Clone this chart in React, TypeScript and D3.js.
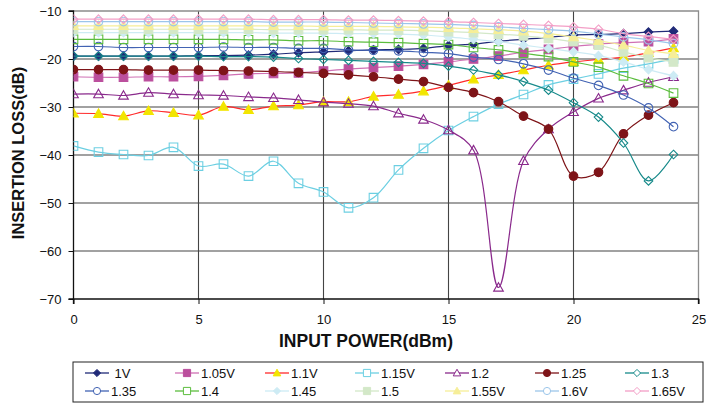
import React, { useRef, useEffect } from 'react';
import * as d3 from 'd3';

// input power (dBm)
const POWER = [0, 1, 2, 3, 4, 5, 6, 7, 8, 9, 10, 11, 12, 13, 14, 15, 16, 17, 18, 19, 20, 21, 22, 23, 24];

// insertion loss (dB) per supply voltage
const V1_00 = [-19.4, -19.4, -19.4, -19.4, -19.4, -19.3, -19.3, -19.2, -19.0, -18.7, -18.5, -18.3, -18.1, -18.0, -17.8, -17.2, -16.9, -16.3, -15.9, -15.5, -15.0, -14.9, -14.7, -14.4, -14.2];
const V1_05 = [-23.7, -23.8, -23.8, -23.7, -23.7, -23.6, -23.4, -23.1, -23.0, -22.9, -22.5, -22.1, -21.8, -21.5, -21.1, -20.6, -20.0, -19.4, -18.6, -18.0, -17.4, -16.9, -16.6, -16.4, -15.8];
const V1_10 = [-31.3, -31.4, -31.9, -30.8, -31.2, -31.7, -29.9, -30.6, -29.8, -29.6, -28.9, -28.9, -27.8, -27.4, -26.7, -25.5, -24.2, -23.3, -22.3, -21.3, -20.6, -20.1, -19.6, -18.7, -17.7];
const V1_15 = [-38.1, -39.4, -39.9, -40.1, -38.4, -42.3, -41.9, -44.4, -41.3, -45.9, -47.7, -51.0, -48.9, -43.1, -38.6, -34.9, -32.0, -29.4, -27.4, -25.4, -24.2, -23.1, -21.9, -21.0, -20.0];
const V1_20 = [-27.3, -27.3, -27.6, -27.0, -27.3, -27.5, -27.6, -27.9, -28.1, -28.5, -29.0, -29.3, -29.8, -31.3, -32.6, -34.8, -39.0, -67.6, -41.2, -34.6, -31.0, -28.2, -26.5, -24.9, -23.7];
const V1_25 = [-22.2, -22.2, -22.2, -22.3, -22.3, -22.3, -22.4, -22.5, -22.6, -22.8, -23.0, -23.3, -23.7, -24.2, -24.7, -25.9, -27.0, -28.9, -31.9, -34.6, -44.4, -43.6, -35.6, -31.7, -29.1];
const V1_30 = [-19.4, -19.4, -19.4, -19.4, -19.4, -19.4, -19.5, -19.5, -19.6, -19.9, -20.1, -20.3, -20.5, -20.7, -20.9, -21.5, -22.3, -23.3, -24.7, -26.5, -29.1, -32.1, -37.5, -45.4, -39.9];
const V1_35 = [-17.4, -17.4, -17.6, -17.6, -17.6, -17.6, -17.5, -17.6, -17.6, -17.8, -17.8, -18.1, -18.2, -18.3, -18.6, -18.9, -19.6, -20.1, -21.0, -22.3, -24.0, -25.5, -27.5, -30.2, -34.1];
const V1_40 = [-15.9, -15.9, -15.9, -15.9, -15.9, -15.9, -15.9, -16.0, -16.0, -16.2, -16.2, -16.4, -16.5, -16.6, -16.8, -17.0, -17.6, -18.1, -18.8, -19.5, -20.6, -21.7, -23.5, -25.1, -27.1];
const V1_45 = [-14.5, -14.5, -14.5, -14.5, -14.5, -14.5, -14.5, -14.5, -14.6, -14.6, -14.6, -14.7, -14.7, -14.8, -15.0, -15.4, -15.9, -16.4, -17.1, -17.8, -18.5, -19.3, -20.6, -22.2, -23.5];
const V1_50 = [-13.8, -13.8, -13.8, -13.8, -13.8, -13.8, -13.8, -13.8, -13.9, -13.9, -13.9, -13.9, -14.0, -14.0, -14.1, -14.3, -14.5, -14.8, -15.2, -15.7, -16.4, -17.1, -18.5, -19.7, -20.6];
const V1_55 = [-13.1, -13.1, -13.1, -13.1, -13.1, -13.1, -13.1, -13.1, -13.1, -13.1, -13.2, -13.2, -13.2, -13.3, -13.4, -13.5, -13.7, -13.9, -14.2, -14.7, -15.4, -16.2, -17.1, -18.2, -18.9];
const V1_60 = [-12.2, -12.2, -12.2, -12.2, -12.2, -12.2, -12.2, -12.2, -12.3, -12.3, -12.3, -12.4, -12.5, -12.6, -12.7, -12.8, -13.0, -13.3, -13.6, -13.9, -14.2, -14.8, -15.4, -16.0, -16.8];
const V1_65 = [-11.7, -11.7, -11.7, -11.7, -11.7, -11.7, -11.7, -11.7, -11.8, -11.8, -11.8, -11.9, -11.9, -12.0, -12.1, -12.2, -12.4, -12.6, -12.8, -13.0, -13.3, -13.8, -14.7, -15.3, -15.9];

const Y_TICKS = [-70, -60, -50, -40, -30, -20, -10];
const X_TICKS = [0, 5, 10, 15, 20, 25];

type Shape = 'diamond' | 'square' | 'triangle' | 'circle';
interface Series { name: string; values: number[]; line: string; mark: string; shape: Shape; filled: boolean; }

const SERIES: Series[] = [
  { name: ' 1V', values: V1_00, line: '#202a78', mark: '#202a78', shape: 'diamond', filled: true },
  { name: '1.05V', values: V1_05, line: '#d070b4', mark: '#bb4f9d', shape: 'square', filled: true },
  { name: '1.1V', values: V1_10, line: '#ff2a2a', mark: '#f2e500', shape: 'triangle', filled: true },
  { name: '1.15V', values: V1_15, line: '#6ccfe2', mark: '#6ccfe2', shape: 'square', filled: false },
  { name: '1.2', values: V1_20, line: '#8a2a8c', mark: '#8a2a8c', shape: 'triangle', filled: false },
  { name: '1.25', values: V1_25, line: '#7e1418', mark: '#7e1418', shape: 'circle', filled: true },
  { name: '1.3', values: V1_30, line: '#178a8a', mark: '#178a8a', shape: 'diamond', filled: false },
  { name: '1.35', values: V1_35, line: '#4263b3', mark: '#4263b3', shape: 'circle', filled: false },
  { name: '1.4', values: V1_40, line: '#5cbd3e', mark: '#5cbd3e', shape: 'square', filled: false },
  { name: '1.45', values: V1_45, line: '#cdebf4', mark: '#cdebf4', shape: 'diamond', filled: true },
  { name: '1.5', values: V1_50, line: '#d3e8c8', mark: '#d3e8c8', shape: 'square', filled: true },
  { name: '1.55V', values: V1_55, line: '#f6ee98', mark: '#f6ee98', shape: 'triangle', filled: true },
  { name: '1.6V', values: V1_60, line: '#9cc6ea', mark: '#9cc6ea', shape: 'circle', filled: false },
  { name: '1.65V', values: V1_65, line: '#f39ec6', mark: '#f39ec6', shape: 'diamond', filled: false },
];

function markerPath(shape: Shape, r: number): string {
  switch (shape) {
    case 'diamond':
      return `M0,${-r}L${r},0L0,${r}L${-r},0Z`;
    case 'square':
      return `M${-r},${-r}H${r}V${r}H${-r}Z`;
    case 'triangle':
      return `M0,${-r * 1.05}L${r * 1.05},${r * 0.8}L${-r * 1.05},${r * 0.8}Z`;
    default:
      return `M${r},0A${r},${r},0,1,1,${-r},0A${r},${r},0,1,1,${r},0Z`;
  }
}

const WIDTH = 708;
const HEIGHT = 406;
const FONT = 'Liberation Sans, Arial, sans-serif';

const InsertionLossChart: React.FC = () => {
  const ref = useRef<SVGSVGElement | null>(null);

  useEffect(() => {
    if (!ref.current) return;
    const svg = d3.select(ref.current);
    svg.selectAll('*').remove();

    const plot = { left: 73.5, right: 698.5, top: 11, bottom: 299 };

    const x = d3.scaleLinear().domain([0, 25]).range([plot.left, plot.right]);
    const y = d3.scaleLinear().domain([-70, -10]).range([plot.bottom, plot.top]);

    // grid
    const grid = svg.append('g');
    grid.selectAll('line.h')
      .data(Y_TICKS.filter(t => t > -70 && t < -10))
      .join('line')
      .attr('x1', plot.left).attr('x2', plot.right)
      .attr('y1', d => y(d)).attr('y2', d => y(d))
      .attr('stroke', '#444').attr('stroke-width', 1.1);
    grid.selectAll('line.v')
      .data(X_TICKS.filter(t => t > 0 && t < 25))
      .join('line')
      .attr('x1', d => x(d)).attr('x2', d => x(d))
      .attr('y1', plot.top).attr('y2', plot.bottom)
      .attr('stroke', '#444').attr('stroke-width', 1.1);

    // frame (top/right grey)
    svg.append('path')
      .attr('d', `M${plot.left},${plot.top}H${plot.right}V${plot.bottom}`)
      .attr('fill', 'none').attr('stroke', '#8c8c8c').attr('stroke-width', 1.3);

    // axes
    const yAxis = svg.append('g')
      .attr('transform', `translate(${plot.left},0)`)
      .call(d3.axisLeft(y).tickValues(Y_TICKS).tickSize(5).tickPadding(7).tickFormat(d3.format('d')));
    const xAxis = svg.append('g')
      .attr('transform', `translate(0,${plot.bottom})`)
      .call(d3.axisBottom(x).tickValues(X_TICKS).tickSize(5).tickPadding(6));
    [yAxis, xAxis].forEach(a => {
      a.select('.domain').attr('stroke', '#111').attr('stroke-width', 1.3);
      a.selectAll('.tick line').attr('stroke', '#111');
      a.selectAll('.tick text').attr('font-family', FONT).attr('font-size', 13).attr('fill', '#111');
    });
    yAxis.select('.domain').attr('d', `M-5,${plot.bottom}H0V${plot.top}H-5`);
    xAxis.select('.domain').attr('d', `M${plot.left},5V0H${plot.right}V5`);
    xAxis.selectAll('.tick text').attr('dy', '1.1em');

    // axis titles
    svg.append('text')
      .attr('x', 366).attr('y', 347)
      .attr('text-anchor', 'middle')
      .attr('font-family', FONT).attr('font-weight', 'bold').attr('font-size', 17.5)
      .attr('fill', '#111')
      .text('INPUT POWER(dBm)');
    svg.append('text')
      .attr('transform', `translate(24,${(plot.top + plot.bottom) / 2 - 2}) rotate(-90)`)
      .attr('text-anchor', 'middle')
      .attr('font-family', FONT).attr('font-weight', 'bold').attr('font-size', 16.5)
      .attr('fill', '#111')
      .text('INSERTION LOSS(dB)');

    // series
    const line = d3.line<number>()
      .x((_, i) => x(POWER[i]))
      .y(d => y(d))
      .curve(d3.curveCatmullRom.alpha(0.5));

    const clipId = 'plot-clip';
    svg.append('clipPath').attr('id', clipId)
      .append('rect')
      .attr('x', plot.left).attr('y', plot.top - 6)
      .attr('width', plot.right - plot.left + 6).attr('height', plot.bottom - plot.top + 6);

    const seriesG = svg.append('g').attr('clip-path', `url(#${clipId})`);
    SERIES.forEach(s => {
      const g = seriesG.append('g');
      g.append('path')
        .attr('d', line(s.values) || '')
        .attr('fill', 'none')
        .attr('stroke', s.line)
        .attr('stroke-width', 1.2);
      const r = s.shape === 'triangle' ? 4.6 : 4.3;
      g.selectAll('path.m')
        .data(s.values)
        .join('path')
        .attr('class', 'm')
        .attr('transform', (d, i) => `translate(${x(POWER[i])},${y(d)})`)
        .attr('d', markerPath(s.shape, r))
        .attr('fill', s.filled ? s.mark : 'none')
        .attr('stroke', s.mark)
        .attr('stroke-width', 1.1);
    });

    // legend
    const legendBox = { x: 73, y: 362, w: 630, h: 40 };
    svg.append('rect')
      .attr('x', legendBox.x).attr('y', legendBox.y)
      .attr('width', legendBox.w).attr('height', legendBox.h)
      .attr('fill', '#fff').attr('stroke', '#222').attr('stroke-width', 1);

    const items = svg.append('g')
      .selectAll('g')
      .data(SERIES)
      .join('g')
      .attr('transform', (_, i) => `translate(${97 + (i % 7) * 90},${373 + Math.floor(i / 7) * 18})`);
    items.append('line')
      .attr('x1', -12).attr('x2', 12)
      .attr('stroke', d => d.line).attr('stroke-width', 1.3);
    items.append('path')
      .attr('d', d => markerPath(d.shape, 3.6))
      .attr('fill', d => (d.filled ? d.mark : '#fff'))
      .attr('stroke', d => d.mark)
      .attr('stroke-width', 1);
    items.append('text')
      .attr('x', 14).attr('y', 0).attr('dy', '0.36em')
      .attr('font-family', FONT).attr('font-size', 13).attr('fill', '#111')
      .style('white-space', 'pre')
      .text(d => d.name);
  }, []);

  return <svg ref={ref} width={WIDTH} height={HEIGHT} style={{ display: 'block', background: '#fff' }} />;
};

export default function App() {
  return (
    <div style={{ position: 'fixed', left: 0, top: 0, width: WIDTH, height: HEIGHT, background: '#fff' }}>
      <InsertionLossChart />
    </div>
  );
}
